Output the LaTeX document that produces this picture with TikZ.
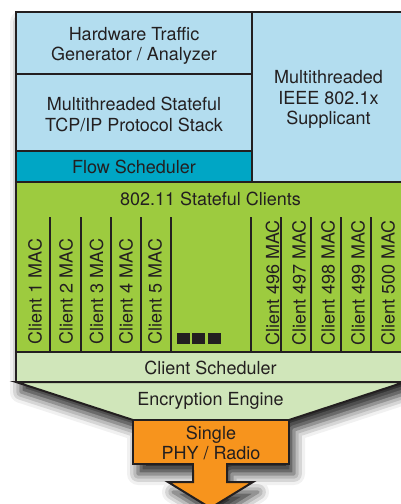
\documentclass[tikz,border=0pt]{standalone}
\usepackage{fontspec}
\setmainfont{TeX Gyre Heros}
\usetikzlibrary{shadows.blur}
\definecolor{lblue}{HTML}{B3DDEF}
\definecolor{tealb}{HTML}{00A6C5}
\definecolor{grn}{HTML}{9DCB3F}
\definecolor{lgrn}{HTML}{D0E6BA}
\definecolor{orng}{HTML}{F7941D}
\definecolor{ink}{HTML}{231F20}
\begin{document}
\begin{tikzpicture}[x=1pt,y=-1pt,
  font=\fontsize{18}{20.5}\selectfont,
  box/.style={draw=ink, line width=2pt, inner sep=0pt, text=ink, align=center},
  lbl/.style={inner sep=0pt, text=ink, align=center},
  mac/.style={lbl, rotate=90, anchor=west},
  divline/.style={draw=ink, line width=1.7pt},
  sq/.style={fill=ink, draw=none, minimum width=12.5pt, minimum height=11.5pt, inner sep=0pt}]
\useasboundingbox (0,0) rectangle (401,504);
\clip (0,0) rectangle (401,504);
% shadow of the whole outline
\path[fill=white, blur shadow={shadow xshift=5pt, shadow yshift=-10pt, shadow blur radius=11pt, shadow opacity=85}]
  (16,12) -- (405,12) -- (405,382) -- (289,420) -- (289,464) -- (227,464) -- (227,482) -- (253,482)
  -- (210.5,508) -- (168,482) -- (193,482) -- (193,464) -- (133,464) -- (133,420) -- (16,382) -- cycle;
% upper boxes
\node[box, fill=lblue, minimum width=236pt, minimum height=62pt] (hw) at (134,43) {};
\node[lbl] (hwt) at (134,46) {Hardware Traffic\\Generator / Analyzer};
\node[box, fill=lblue, minimum width=236pt, minimum height=77pt] (tcp) at (134,112.5) {};
\node[lbl] (tcpt) at (134,114.5) {Multithreaded Stateful\\TCP/IP Protocol Stack};
\node[box, fill=tealb, minimum width=236pt, minimum height=31pt] (flow) at (134,166.5) {};
\node[lbl] (flowt) at (134,167) {Flow Scheduler};
\node[box, fill=lblue, minimum width=153pt, minimum height=170pt] (supp) at (328.5,97) {};
\node[lbl] (suppt) at (328.5,99.5) {Multithreaded\\IEEE 802.1x\\Supplicant};
% clients
\node[box, fill=grn, minimum width=389pt, minimum height=170pt] (cl) at (210.5,267) {};
\node[lbl] (clt) at (210.5,199) {802.11 Stateful Clients};
\foreach \x/\n in {50/a,81/b,111/c,141/d,171/e,251/f,281/g,311/h,341/i,371/j}{
  \coordinate (t\n) at (\x,217);
  \coordinate (b\n) at (\x,352);
  \draw[divline] (t\n) -- (b\n);
}
\node[mac] (c1) at (35,344.5) {Client 1 MAC};
\node[mac] (c2) at (66,344.5) {Client 2 MAC};
\node[mac] (c3) at (96.5,344.5) {Client 3 MAC};
\node[mac] (c4) at (126,344.5) {Client 4 MAC};
\node[mac] (c5) at (155,344.5) {Client 5 MAC};
\node[mac] (c496) at (272.5,346) {Client 496 MAC};
\node[mac] (c497) at (299,346) {Client 497 MAC};
\node[mac] (c498) at (328,346) {Client 498 MAC};
\node[mac] (c499) at (358,346) {Client 499 MAC};
\node[mac] (c500) at (388,346) {Client 500 MAC};
\node[sq] (s1) at (183.5,338.5) {};
\node[sq] (s2) at (198.5,338.5) {};
\node[sq] (s3) at (214.5,338.5) {};
% client scheduler
\node[box, fill=lgrn, minimum width=389pt, minimum height=30pt] (cs) at (210.5,367) {};
\node[lbl] (cst) at (210.5,368) {Client Scheduler};
% encryption engine
\draw[draw=ink, line width=2pt, fill=lgrn, line join=miter]
  (16,382) -- (405,382) -- (289,420) -- (133,420) -- cycle;
\node[lbl] (enc) at (210.5,401) {Encryption Engine};
% PHY
\node[box, fill=orng, minimum width=156pt, minimum height=44pt] (phy) at (211,442) {};
\node[lbl] (phyt) at (211,443) {Single\\PHY / Radio};
% arrow
\coordinate (a1) at (193,464);
\coordinate (a2) at (227,464);
\draw[draw=ink, line width=2pt, fill=orng, line join=miter]
  (a1) -- (193,482) -- (168,482) -- (210.5,508) -- (253,482) -- (227,482) -- (a2);
\fill[orng] (194,463) rectangle (226,470);
\end{tikzpicture}
\end{document}
